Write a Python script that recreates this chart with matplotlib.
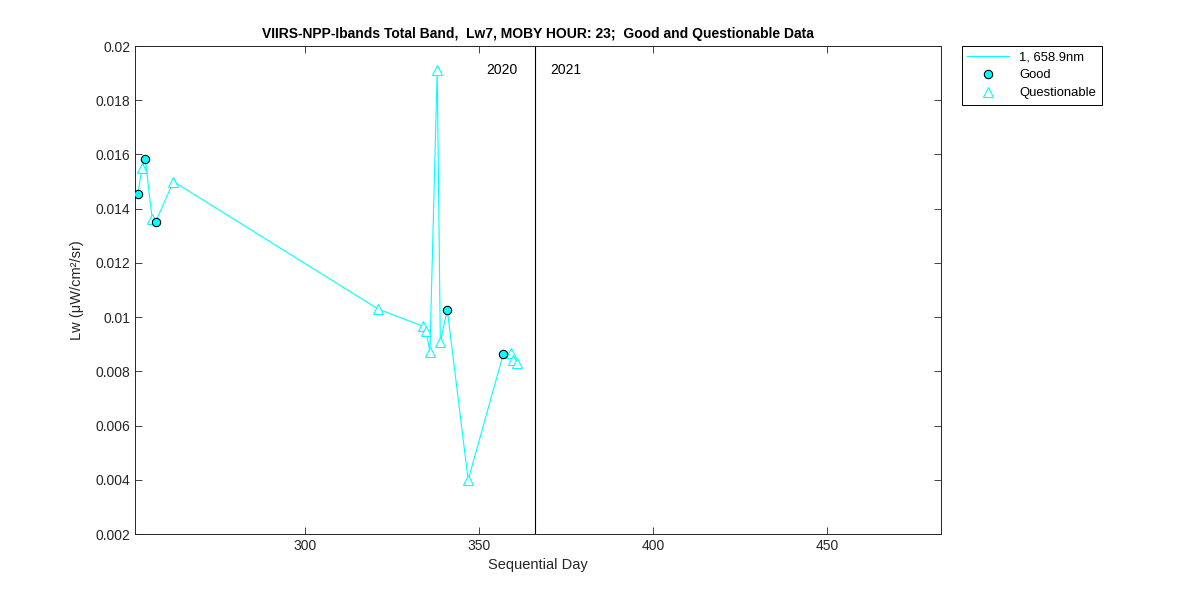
import matplotlib
matplotlib.use("Agg")
import matplotlib.pyplot as plt
import numpy as np

plt.rcParams['font.family'] = ['Liberation Sans', 'DejaVu Sans']

# Data
days = [252.0, 253.1, 254.1, 256.1, 257.1, 262.2, 321.1, 333.8, 334.8, 335.9,
        338.0, 338.9, 340.9, 346.9, 357.0, 359.1, 359.9, 361.0]
lw = [0.01455, 0.01549, 0.01582, 0.01362, 0.01352, 0.01500, 0.01029, 0.00967,
      0.00950, 0.00873, 0.01910, 0.00910, 0.01027, 0.00399, 0.00864, 0.00866,
      0.00840, 0.00830]
quality = ['G', 'Q', 'G', 'Q', 'G', 'Q', 'Q', 'Q', 'Q', 'Q',
           'Q', 'Q', 'G', 'Q', 'G', 'Q', 'Q', 'Q']
year_boundary = 366
year_labels = ['2020', '2021']
xticks = [300, 350, 400, 450]
yticks = [0.002, 0.004, 0.006, 0.008, 0.01, 0.012, 0.014, 0.016, 0.018, 0.02]
ytick_labels = ['0.002', '0.004', '0.006', '0.008', '0.01', '0.012', '0.014',
                '0.016', '0.018', '0.02']

dark = '#262626'
fig = plt.figure(figsize=(12, 6), dpi=100)
ax = fig.add_axes([0.1125, 0.11, 0.6717, 0.8133])

d = np.array(days)
v = np.array(lw)
q = np.array(quality)

cyan = '#00FFFF'
line, = ax.plot(d, v, '-', color=cyan, lw=0.8, label='1, 658.9nm')
g = q == 'G'
gd, = ax.plot(d[g], v[g], 'o', ls='none', mfc=cyan, mec='black', mew=0.8,
              ms=6, label='Good')
qu, = ax.plot(d[~g], v[~g], '^', ls='none', mfc='white', mec=cyan, mew=0.8,
              ms=7, label='Questionable')
gd.set_zorder(4)

ax.axvline(year_boundary, color='black', lw=0.8)
ax.text(year_boundary - 5, 0.0191, year_labels[0], ha='right', va='center', fontsize=10)
ax.text(year_boundary + 4.6, 0.0191, year_labels[1], ha='left', va='center', fontsize=10)

ax.set_xlim(251.15, 482.8)
ax.set_ylim(0.002, 0.02)
ax.set_xticks(xticks)
ax.set_yticks(yticks)
ax.set_yticklabels(ytick_labels)
ax.tick_params(direction='in', top=True, right=True, labelsize=10, length=5,
               width=0.6, colors=dark, labelcolor=dark)
for s in ax.spines.values():
    s.set_linewidth(0.7)
    s.set_color(dark)

ax.set_xlabel('Sequential Day', fontsize=10.5, color=dark)
ax.set_ylabel('Lw (μW/cm²/sr)', fontsize=10.5, color=dark, labelpad=8)
ax.set_title('VIIRS-NPP-Ibands Total Band,  Lw7, MOBY HOUR: 23;  Good and Questionable Data',
             fontsize=10, fontweight='bold')

leg = fig.legend(handles=[line, gd, qu], loc='upper left',
                 bbox_to_anchor=(962 / 1200, 1 - 46 / 600), fontsize=9.4,
                 fancybox=False, edgecolor='black', framealpha=1,
                 borderaxespad=0, handlelength=3.2, labelspacing=0.45)
leg.get_frame().set_linewidth(0.7)

fig.savefig('out.png', dpi=100)
